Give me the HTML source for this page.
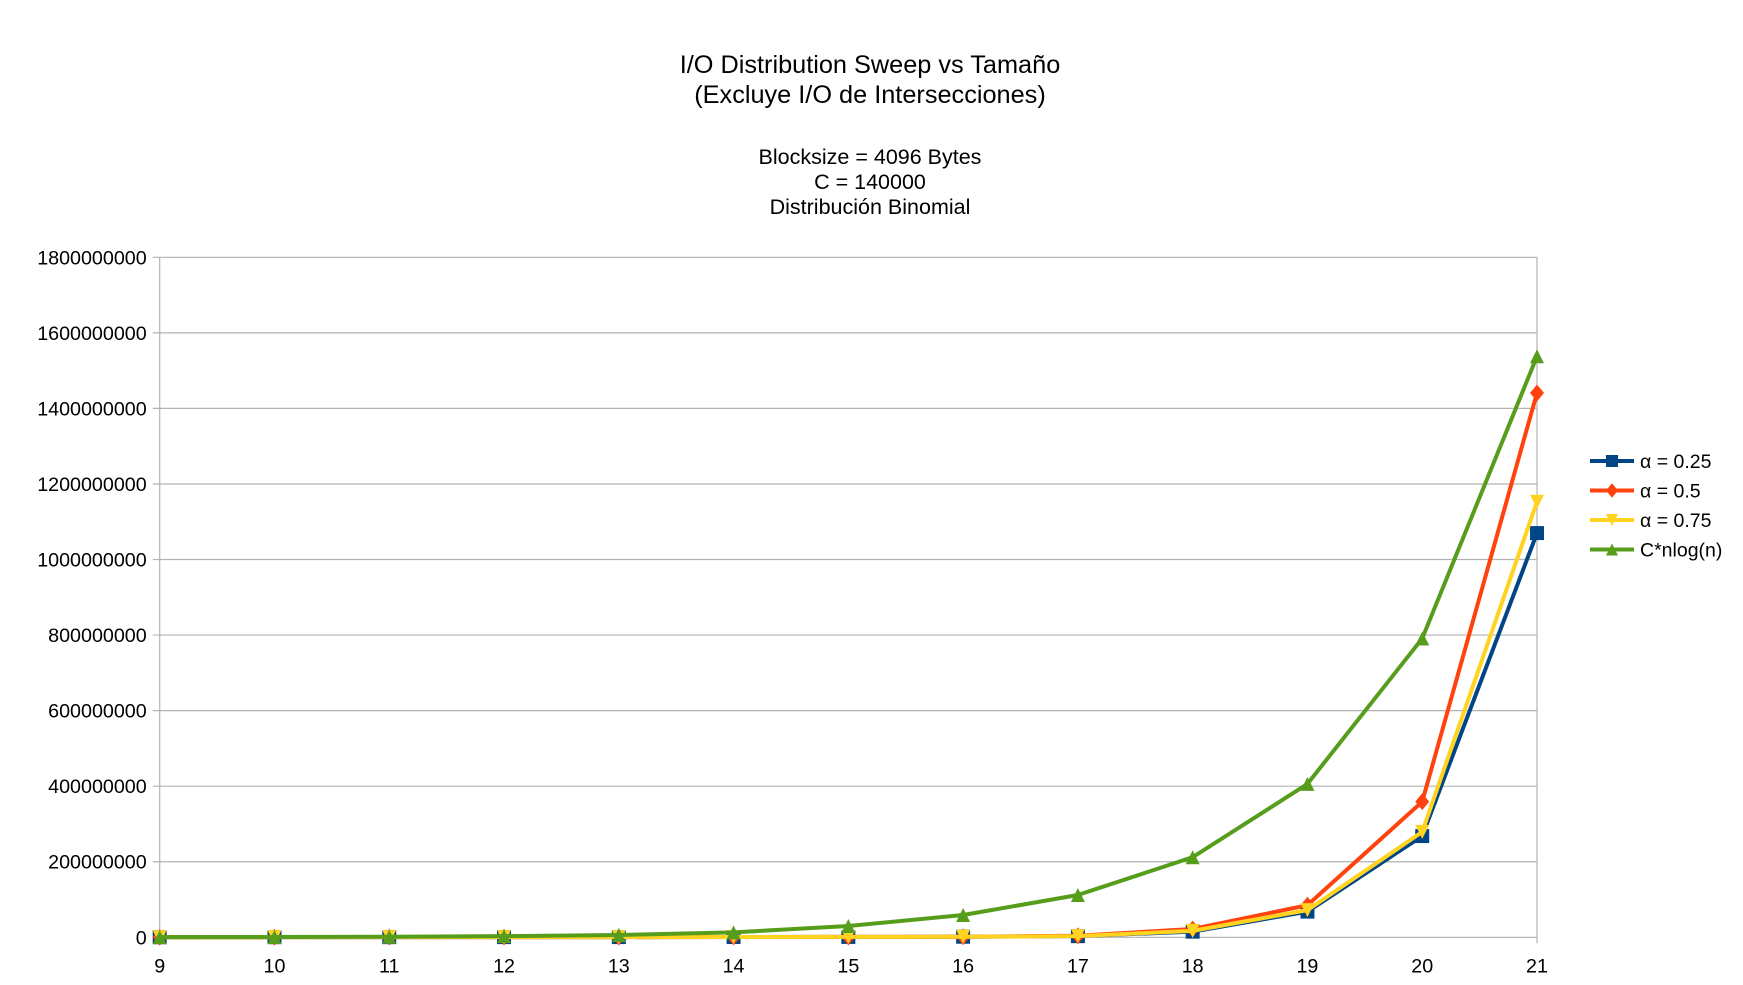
<!DOCTYPE html>
<html><head><meta charset="utf-8"><style>
body{margin:0;background:#fff;font-family:"Liberation Sans",sans-serif}
svg text{font-family:"Liberation Sans",sans-serif}
</style></head><body>
<svg width="1743" height="980" xmlns="http://www.w3.org/2000/svg">
<g text-anchor="middle" fill="#000">
<text x="870" y="73" font-size="25.3">I/O Distribution Sweep vs Tamaño</text>
<text x="870" y="103" font-size="25.3">(Excluye I/O de Intersecciones)</text>
</g>
<g text-anchor="middle" fill="#000" font-size="21.5">
<text x="870" y="164">Blocksize = 4096 Bytes</text>
<text x="870" y="189">C = 140000</text>
<text x="870" y="214">Distribución Binomial</text>
</g>
<g id="grid"></g><g id="series"></g><g id="legend"></g>
</svg>
<script>
const categories=[9,10,11,12,13,14,15,16,17,18,19,20,21];
const yTicks=[0,200000000,400000000,600000000,800000000,1000000000,1200000000,1400000000,1600000000,1800000000];
const a025=[0.2e6,0.3e6,0.4e6,0.5e6,0.6e6,0.8e6,1e6,1.5e6,3e6,15e6,68e6,268e6,1070e6];
const a05=[0.2e6,0.3e6,0.4e6,0.5e6,0.6e6,0.8e6,1e6,1.5e6,4e6,22e6,85e6,359e6,1441e6];
const a075=[0.2e6,0.3e6,0.4e6,0.5e6,0.6e6,0.8e6,1e6,1.5e6,3e6,17e6,72e6,279e6,1153e6];
const cnlog=[0.3e6,0.7e6,1.4e6,3e6,6e6,13e6,30e6,59e6,112e6,212e6,406e6,791e6,1538e6];
const names=["α = 0.25","α = 0.5","α = 0.75","C*nlog(n)"];
const NS="http://www.w3.org/2000/svg";
const X0=159.7,X1=1537,Y0=937.3,Y1=257.3,YMAX=1800000000;
const xs=i=>X0+(X1-X0)*i/(categories.length-1);
const ys=v=>Y0-(Y0-Y1)*v/YMAX;
function mk(t,a,p){const e=document.createElementNS(NS,t);for(const k in a)e.setAttribute(k,a[k]);p.appendChild(e);return e;}
const grid=document.getElementById('grid');
yTicks.forEach(v=>{
 const l=mk('line',{x1:X0-7,x2:X1,y1:ys(v),y2:ys(v),stroke:'#b3b3b3','stroke-width':1.2},grid);
 
 
 const t=mk('text',{x:X0-13,y:ys(v)+7,'text-anchor':'end','font-size':19.7,fill:'#000'},grid);t.textContent=v;
 
 
});
categories.forEach((c,i)=>{
 const t=mk('text',{x:xs(i),y:Y0+35,'text-anchor':'middle','font-size':19.7,fill:'#000'},grid);t.textContent=c;
 
 
});
mk('line',{x1:X0,x2:X0,y1:Y1,y2:Y0+6,stroke:'#b3b3b3','stroke-width':1.2},grid);
mk('line',{x1:X1,x2:X1,y1:Y1,y2:Y0+6,stroke:'#b3b3b3','stroke-width':1.2},grid);
const colors=['#004586','#ff420e','#ffd320','#579d1c'];
const shapes=['sq','dia','tdown','tup'];
function marker(s,x,y,c,p,r){
 if(s=='sq')return mk('rect',{x:x-r,y:y-r,width:2*r,height:2*r,fill:c},p);
 if(s=='dia')return mk('polygon',{points:`${x},${y-r*1.2} ${x+r},${y} ${x},${y+r*1.2} ${x-r},${y}`,fill:c},p);
 if(s=='tdown')return mk('polygon',{points:`${x-r},${y-r} ${x+r},${y-r} ${x},${y+r}`,fill:c},p);
 return mk('polygon',{points:`${x-r},${y+r} ${x+r},${y+r} ${x},${y-r}`,fill:c},p);
}
const ser=document.getElementById('series');
[a025,a05,a075,cnlog].forEach((d,k)=>{
 const g=mk('g',{},ser);
 
 
 mk('polyline',{points:d.map((v,i)=>xs(i)+','+ys(v)).join(' '),fill:'none',stroke:colors[k],'stroke-width':4,'stroke-linejoin':'round'},g);
 d.forEach((v,i)=>{const m=marker(shapes[k],xs(i),ys(v),colors[k],g,7);
  
  });
});
const leg=document.getElementById('legend');
names.forEach((n,k)=>{
 const y=461+29.5*k;
 const g=mk('g',{},leg);
 
 
 mk('line',{x1:1590,x2:1634,y1:y,y2:y,stroke:colors[k],'stroke-width':4},g);
 marker(shapes[k],1612,y,colors[k],g,6);
 const t=mk('text',{x:1640,y:y+7,'font-size':19.5,fill:'#000'},g);t.textContent=n;
});
</script>
</body></html>
